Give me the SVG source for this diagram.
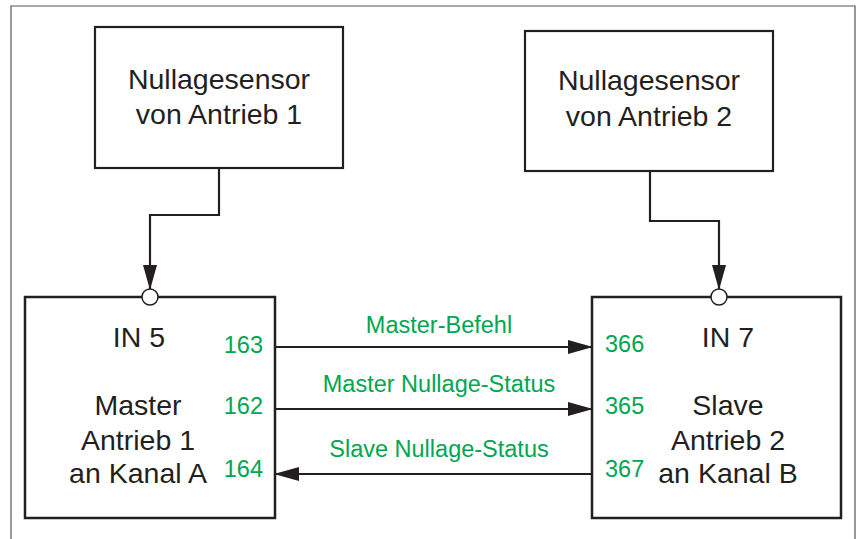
<svg xmlns="http://www.w3.org/2000/svg" width="862" height="539" viewBox="0 0 862 539">
<style>
.box{fill:#fff;stroke:#231f20;stroke-width:2.5}
.sbox{fill:#fff;stroke:#231f20;stroke-width:2.2}
.lbl{font-family:"Liberation Sans",Arial,sans-serif;font-size:28.5px;fill:#231f20;text-anchor:middle}
.g{font-family:"Liberation Sans",Arial,sans-serif;font-size:23.5px;fill:#00a651}
.gc{text-anchor:middle}
.ge{text-anchor:end}
.wire{fill:none;stroke:#231f20;stroke-width:2.2}
.pin{fill:#fff;stroke:#231f20;stroke-width:1.5}
</style>
<defs>
<marker id="ah" viewBox="0 0 25 14" refX="24" refY="7" markerWidth="25" markerHeight="14" markerUnits="userSpaceOnUse" orient="auto">
<path d="M0,0 L25,7 L0,14 z" fill="#231f20"/>
</marker>
</defs>
<rect width="862" height="539" fill="#fff"/>
<path d="M11,539 V6 H855 V539" fill="none" stroke="#555" stroke-width="1.2"/>

<g id="sensor1">
<rect class="sbox" x="95" y="27" width="248" height="141"/>
<text class="lbl" x="219" y="89">Nullagesensor</text>
<text class="lbl" x="219" y="124">von Antrieb 1</text>
</g>
<g id="sensor2">
<rect class="sbox" x="525" y="31" width="248" height="140"/>
<text class="lbl" x="649" y="90">Nullagesensor</text>
<text class="lbl" x="649" y="126">von Antrieb 2</text>
</g>

<g id="master">
<rect class="box" x="25" y="297" width="250" height="221"/>
<text class="lbl" x="139" y="347">IN 5</text>
<text class="lbl" x="138" y="415">Master</text>
<text class="lbl" x="138" y="450">Antrieb 1</text>
<text class="lbl" x="138" y="483">an Kanal A</text>
<text class="g ge" x="263" y="353">163</text>
<text class="g ge" x="263" y="414">162</text>
<text class="g ge" x="263" y="477">164</text>
</g>
<g id="slave">
<rect class="box" x="592" y="297" width="249" height="221"/>
<text class="lbl" x="728" y="347">IN 7</text>
<text class="lbl" x="728" y="415">Slave</text>
<text class="lbl" x="728" y="450">Antrieb 2</text>
<text class="lbl" x="728" y="483">an Kanal B</text>
<text class="g" x="605" y="352">366</text>
<text class="g" x="605" y="414">365</text>
<text class="g" x="605" y="477">367</text>
</g>

<g id="connectors">
<path class="wire" d="M219,168 V215 H150 V289" marker-end="url(#ah)"/>
<path class="wire" d="M650,171 V221 H719 V289" marker-end="url(#ah)"/>
<circle class="pin" cx="150" cy="297" r="8"/>
<circle class="pin" cx="719" cy="297" r="8"/>
<path class="wire" d="M275,347 H592" marker-end="url(#ah)"/>
<path class="wire" d="M275,409 H592" marker-end="url(#ah)"/>
<path class="wire" d="M592,474 H275" marker-end="url(#ah)"/>
<text class="g gc" x="439" y="333">Master-Befehl</text>
<text class="g gc" x="439" y="392">Master Nullage-Status</text>
<text class="g gc" x="439" y="457">Slave Nullage-Status</text>
</g>
</svg>
